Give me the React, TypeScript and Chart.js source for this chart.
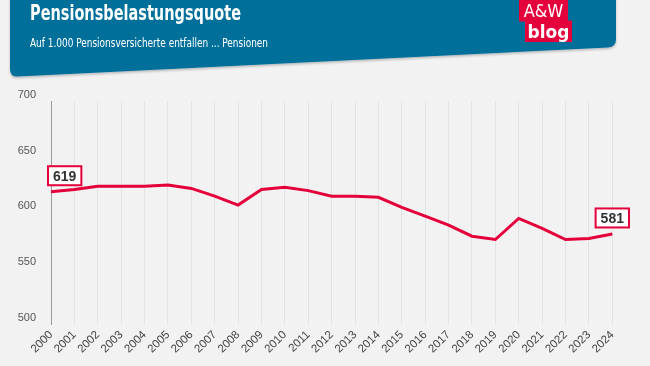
import React, { useEffect, useRef } from "react";
import { Chart, registerables } from "chart.js";

Chart.register(...registerables);

const years: string[] = [
  "2000", "2001", "2002", "2003", "2004", "2005", "2006", "2007", "2008", "2009",
  "2010", "2011", "2012", "2013", "2014", "2015", "2016", "2017", "2018", "2019",
  "2020", "2021", "2022", "2023", "2024",
];
const quote: number[] = [
  619, 621, 624, 624, 624, 625, 622, 615, 607, 621,
  623, 620, 615, 615, 614, 605, 597, 589, 579, 576,
  595, 586, 576, 577, 581,
];
const labeledIndices: number[] = [0, 24];
const yMin = 500;
const yMax = 700;
const yStep = 50;

const title = "Pensionsbelastungsquote";
const subtitle = "Auf 1.000 Pensionsversicherte entfallen ... Pensionen";

const RED = "#e4003b";
const BLUE = "#046f9b";
const FONT = "'Liberation Sans', Arial, sans-serif";

const valueLabelPlugin = {
  id: "valueLabels",
  afterDatasetsDraw(chart: any) {
    const ctx = chart.ctx;
    const meta = chart.getDatasetMeta(0);
    const area = chart.chartArea;
    ctx.save();
    ctx.font = `bold 14px ${FONT}`;
    labeledIndices.forEach((i) => {
      const pt = meta.data[i];
      if (!pt) return;
      const text = String(quote[i]);
      const tw = ctx.measureText(text).width;
      const w = tw + 10;
      const h = 19;
      let left = pt.x - w / 2;
      if (left < area.left - 3) left = area.left - 3;
      const top = pt.y - 6.5 - h;
      ctx.fillStyle = "#ffffff";
      ctx.fillRect(left, top, w, h);
      ctx.strokeStyle = RED;
      ctx.lineWidth = 2;
      ctx.strokeRect(left, top, w, h);
      ctx.fillStyle = "#333333";
      ctx.textAlign = "center";
      ctx.textBaseline = "middle";
      ctx.fillText(text, left + w / 2, top + h / 2 + 1);
    });
    ctx.restore();
  },
};

function LineChart() {
  const ref = useRef<HTMLCanvasElement | null>(null);
  useEffect(() => {
    if (!ref.current) return;
    const chart = new Chart(ref.current, {
      type: "line",
      data: {
        labels: years,
        datasets: [
          {
            data: quote,
            borderColor: RED,
            borderWidth: 3,
            pointRadius: 0,
            tension: 0,
            fill: false,
          },
        ],
      },
      options: {
        responsive: false,
        maintainAspectRatio: false,
        devicePixelRatio: 1,
        animation: false,
        layout: { padding: { top: 101.7, right: 37.7, left: 0, bottom: 0 } },
        plugins: {
          legend: { display: false },
          tooltip: { enabled: false },
          title: { display: false },
        },
        scales: {
          x: {
            grid: { display: true, color: "#e3e3e3", lineWidth: 1, drawTicks: false },
            border: { display: false },
            ticks: {
              color: "#444",
              font: { family: FONT, size: 11.5 },
              minRotation: 45,
              maxRotation: 45,
              padding: 4,
              autoSkip: false,
            },
            afterFit: (scale: any) => {
              scale.height = 42;
            },
          },
          y: {
            min: yMin,
            max: yMax,
            grid: { display: false, drawTicks: false },
            border: { display: true, color: "#9a9a9a", width: 1 },
            ticks: {
              stepSize: yStep,
              color: "#555",
              font: { family: FONT, size: 11 },
              padding: 15,
              labelOffset: -6.5,
            },
            afterFit: (scale: any) => {
              scale.width = 51;
            },
          },
        },
      },
      plugins: [valueLabelPlugin],
    });
    return () => chart.destroy();
  }, []);
  return (
    <canvas
      ref={ref}
      width={650}
      height={366}
      style={{ position: "absolute", left: 0, top: 0, width: 650, height: 366 }}
    />
  );
}

export default function App() {
  return (
    <div
      style={{
        position: "fixed",
        left: 0,
        top: 0,
        width: 650,
        height: 366,
        background: "#f2f2f2",
        overflow: "hidden",
      }}
    >
      <LineChart />
      <svg
        width={650}
        height={90}
        style={{ position: "absolute", left: 0, top: 0 }}
      >
        <defs>
          <filter id="sh" x="-5%" y="-20%" width="110%" height="150%">
            <feDropShadow dx="0" dy="1.5" stdDeviation="1.2" floodColor="#000" floodOpacity="0.25" />
          </filter>
        </defs>
        <path
          d="M10,-20 L616,-20 L616,39 Q616,47 608,47.4 L18,76.6 Q10,77 10,69 Z"
          fill={BLUE}
          filter="url(#sh)"
        />
        <text
          x={30}
          y={19.5}
          fill="#fff"
          fontFamily="'Liberation Sans Narrow', 'DejaVu Sans Condensed', sans-serif"
          fontWeight="bold"
          fontSize={20.5}
          textLength={211}
          lengthAdjust="spacingAndGlyphs"
        >
          {title}
        </text>
        <text
          x={30}
          y={46.5}
          fill="#fff"
          fontFamily="'Liberation Sans Narrow', 'DejaVu Sans Condensed', sans-serif"
          fontSize={12}
          textLength={238}
          lengthAdjust="spacingAndGlyphs"
        >
          {subtitle}
        </text>
        <rect x={519} y={0} width={49} height={21.5} fill={RED} />
        <rect x={525} y={20.5} width={47} height={21.5} fill={RED} />
        <text
          x={543.5}
          y={17}
          fill="#fff"
          fontFamily="'Liberation Sans Narrow', 'DejaVu Sans Condensed', sans-serif"
          fontSize={18}
          textAnchor="middle"
        >
          A&amp;W
        </text>
        <text
          x={548.5}
          y={37.5}
          fill="#fff"
          fontFamily="'DejaVu Sans', sans-serif"
          fontWeight="bold"
          fontSize={17}
          textAnchor="middle"
        >
          blog
        </text>
      </svg>
    </div>
  );
}
